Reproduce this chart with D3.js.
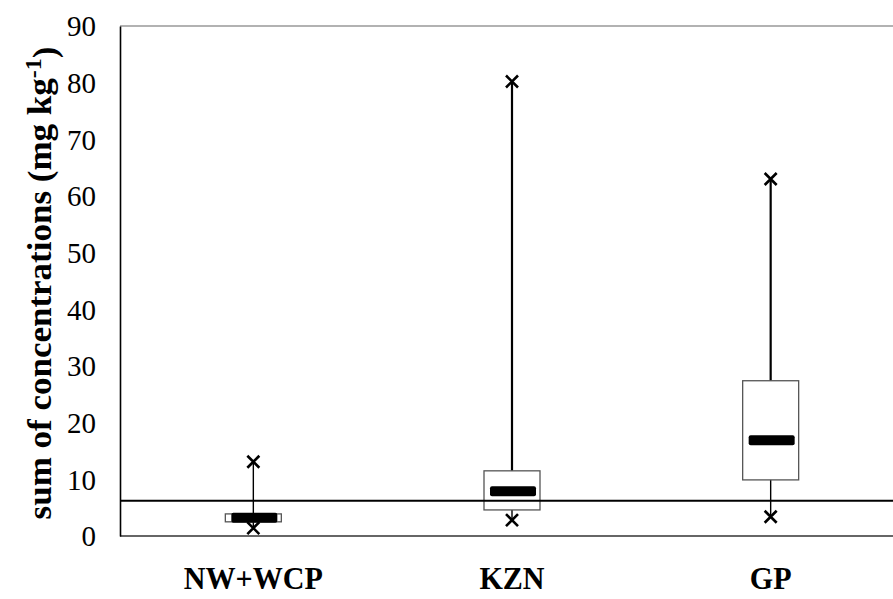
<!DOCTYPE html>
<html>
<head>
<meta charset="utf-8">
<script src="https://cdn.jsdelivr.net/npm/d3@7"></script>
<style>
  html, body { margin: 0; padding: 0; background: #fff; }
  svg { display: block; }
  text { font-family: "Liberation Serif", "Times New Roman", serif; fill: #000; }
</style>
</head>
<body>
<svg id="chart" width="893" height="599"></svg>
<script>
// Box-plot summaries per region (mg kg-1)
const categories = ["NW+WCP", "KZN", "GP"];
const maxValues    = [13.1, 80.2, 63.0];
const q3Values     = [3.9, 11.5, 27.4];
const medianValues = [3.2, 7.9, 16.9];
const q1Values     = [2.5, 4.6, 9.9];
const minValues    = [1.4, 2.8, 3.4];
const referenceValue = 6.2;
const yTicks = [0, 10, 20, 30, 40, 50, 60, 70, 80, 90];

const width = 893, height = 599;
const svg = d3.select("#chart");

const x = d3.scaleBand().domain(categories).range([124, 900]).padding(0);
const y = d3.scaleLinear().domain([0, 90]).range([536, 26]);
const xc = c => x(c) + x.bandwidth() / 2;

const rows = categories.map((c, i) => ({
  cat: c, max: maxValues[i], q3: q3Values[i], med: medianValues[i],
  q1: q1Values[i], min: minValues[i]
}));

// plot frame: top and bottom edges
svg.append("line").attr("x1", 120).attr("x2", width).attr("y1", y(90)).attr("y2", y(90))
  .attr("stroke", "#666").attr("stroke-width", 1.2);
svg.append("line").attr("x1", 120).attr("x2", width).attr("y1", y(0)).attr("y2", y(0))
  .attr("stroke", "#333").attr("stroke-width", 1.6);

// y axis
const yAxis = d3.axisLeft(y).tickValues(yTicks).tickSize(0).tickPadding(24);
const gy = svg.append("g").attr("transform", "translate(120,0)").call(yAxis);
gy.select(".domain").attr("stroke", "#000").attr("stroke-width", 1.6);
gy.selectAll("text").style("font-family", "'Liberation Serif', serif")
  .style("font-size", "29px").attr("dy", "0.34em");

// y axis title
const title = svg.append("text")
  .attr("transform", `translate(51,${(y(0) + y(90)) / 2 + 2}) rotate(-90) scale(1,0.95)`)
  .attr("text-anchor", "middle")
  .style("font-size", "35px").style("font-weight", "bold");
title.append("tspan").text("sum of concentrations (mg kg");
title.append("tspan").attr("dy", "-0.45em").style("font-size", "24px").text("-1");
title.append("tspan").attr("dy", "0.45em").text(")");

// category labels
svg.append("g").selectAll("text").data(categories).join("text")
  .attr("transform", d => `translate(${xc(d)},589) scale(0.94,1)`)
  .attr("text-anchor", "middle")
  .style("font-size", "32px").style("font-weight", "bold")
  .text(d => d);

const boxW = 56, medW = 46, medH = 10;
const g = svg.append("g");

// whiskers
g.selectAll(".whisker-up").data(rows).join("line")
  .attr("x1", d => xc(d.cat)).attr("x2", d => xc(d.cat))
  .attr("y1", d => y(d.max)).attr("y2", d => y(d.q3))
  .attr("stroke", "#000").attr("stroke-width", (d, i) => i === 0 ? 1.4 : 2.2);
g.selectAll(".whisker-down").data(rows).join("line")
  .attr("x1", d => xc(d.cat)).attr("x2", d => xc(d.cat))
  .attr("y1", d => y(d.q1)).attr("y2", d => y(d.min))
  .attr("stroke", "#000").attr("stroke-width", 1.4);

// interquartile boxes
g.selectAll(".box").data(rows).join("rect")
  .attr("x", d => xc(d.cat) - boxW / 2).attr("width", boxW)
  .attr("y", d => y(d.q3)).attr("height", d => y(d.q1) - y(d.q3))
  .attr("fill", "none").attr("stroke", "#555").attr("stroke-width", 1.3);

// reference level
svg.append("line").attr("x1", 120).attr("x2", width)
  .attr("y1", y(referenceValue)).attr("y2", y(referenceValue))
  .attr("stroke", "#000").attr("stroke-width", 2);

// medians
g.selectAll(".median").data(rows).join("rect")
  .attr("x", d => xc(d.cat) - medW / 2 + 1).attr("width", medW)
  .attr("y", d => y(d.med) - medH / 2).attr("height", medH)
  .attr("rx", 2).attr("fill", "#000");

// extreme values
const cross = "M-6,-6L6,6M-6,6L6,-6";
const extremes = rows.flatMap(d => [{ cat: d.cat, v: d.max }, { cat: d.cat, v: d.min }]);
g.selectAll(".extreme").data(extremes).join("path")
  .attr("d", cross)
  .attr("transform", d => `translate(${xc(d.cat)},${y(d.v)})`)
  .attr("fill", "none").attr("stroke", "#000").attr("stroke-width", 2.6);
</script>
</body>
</html>
